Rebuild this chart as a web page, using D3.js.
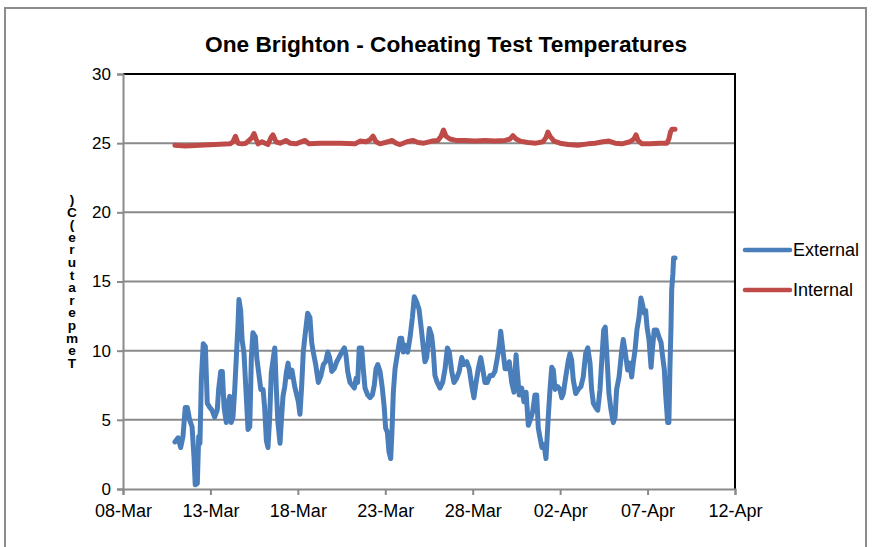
<!DOCTYPE html>
<html>
<head>
<meta charset="utf-8">
<script src="https://cdn.jsdelivr.net/npm/d3@7/dist/d3.min.js"></script>
<style>
  body { margin: 0; background: #fff; }
  svg { display: block; font-family: "Liberation Sans", Arial, sans-serif; }
</style>
</head>
<body>
<svg id="chart" width="876" height="547"></svg>
<script>
// ---------- DATA ----------
const chartTitle = "One Brighton - Coheating Test Temperatures";
const yAxisTitle = "Temperature (C)";
const seriesNames = ["External", "Internal"];
const baseDate = "2010-03-08";
const xTickLabels = ["08-Mar", "13-Mar", "18-Mar", "23-Mar", "28-Mar", "02-Apr", "07-Apr", "12-Apr"];
const yTickValues = [0, 5, 10, 15, 20, 25, 30];

// days since 08-Mar 00:00
const extDays = [2.97,3.15,3.30,3.43,3.56,3.68,3.81,3.95,4.06,4.13,4.25,4.33,4.40,4.48,4.59,4.71,4.82,4.96,5.09,5.24,5.39,5.47,5.59,5.68,5.78,5.91,6.00,6.10,6.19,6.29,6.39,6.48,6.58,6.63,6.73,6.81,6.92,7.05,7.15,7.25,7.34,7.43,7.57,7.65,7.76,7.88,8.01,8.10,8.20,8.29,8.39,8.48,8.60,8.68,8.77,8.86,8.98,9.05,9.15,9.25,9.34,9.44,9.53,9.66,9.82,10.03,10.12,10.22,10.31,10.41,10.56,10.69,10.79,10.88,11.02,11.17,11.32,11.46,11.59,11.71,11.82,11.94,12.08,12.22,12.35,12.51,12.66,12.75,12.85,12.98,13.11,13.23,13.33,13.42,13.51,13.65,13.74,13.84,13.99,14.13,14.26,14.37,14.47,14.57,14.70,14.83,14.94,15.02,15.12,15.21,15.31,15.38,15.46,15.56,15.71,15.84,15.94,16.03,16.13,16.28,16.41,16.55,16.66,16.80,16.93,17.04,17.16,17.27,17.37,17.52,17.65,17.75,17.84,17.97,18.13,18.28,18.42,18.55,18.66,18.80,18.93,19.08,19.23,19.37,19.50,19.66,19.80,19.94,20.07,20.19,20.32,20.46,20.57,20.70,20.83,20.99,21.14,21.27,21.41,21.52,21.60,21.71,21.85,21.98,22.09,22.23,22.36,22.48,22.55,22.66,22.80,22.93,23.05,23.18,23.32,23.43,23.56,23.66,23.75,23.85,23.96,24.08,24.19,24.32,24.42,24.52,24.61,24.71,24.86,24.99,25.09,25.18,25.32,25.47,25.56,25.66,25.75,25.89,26.04,26.19,26.32,26.46,26.58,26.71,26.80,26.90,27.03,27.15,27.28,27.38,27.49,27.58,27.68,27.79,27.91,28.04,28.14,28.23,28.37,28.52,28.61,28.71,28.86,28.99,29.09,29.18,29.28,29.39,29.51,29.62,29.70,29.81,29.89,29.97,30.08,30.20,30.27,30.38,30.52,30.65,30.77,30.84,30.96,31.04,31.15,31.22,31.28,31.34,31.38,31.45,31.49,31.57];
const extTemps = [3.4,3.7,3.0,3.8,5.9,5.9,5.0,4.5,2.3,0.3,0.4,3.8,3.3,7.9,10.5,10.3,6.2,5.9,5.7,5.2,5.7,7.2,8.5,8.5,5.9,4.8,6.2,6.7,4.8,5.2,7.2,9.5,12.0,13.7,12.9,10.8,9.8,6.7,4.3,4.5,9.5,11.3,11.0,9.5,8.4,7.2,7.2,5.9,3.5,3.0,5.2,8.4,9.5,10.2,7.2,4.8,3.3,4.8,6.7,7.4,8.4,9.1,8.1,8.6,7.4,6.3,5.4,7.5,9.9,11.1,12.7,12.4,10.6,9.9,9.0,7.7,8.2,9.0,9.2,9.9,9.5,8.5,8.7,9.2,9.5,9.9,10.2,9.7,8.5,7.7,7.5,7.3,8.0,7.7,10.2,10.2,8.7,7.3,6.8,6.6,6.8,7.5,8.7,9.0,8.5,7.3,5.9,4.4,4.1,2.7,2.2,4.1,7.0,8.7,9.9,10.9,10.9,9.9,10.4,9.9,10.9,12.4,13.9,13.5,13.0,11.8,10.4,9.2,9.5,11.6,11.1,9.9,8.2,7.7,7.3,7.7,8.7,10.2,9.9,8.5,7.7,8.0,8.5,9.5,9.0,9.2,8.7,7.5,6.6,7.7,8.7,9.5,8.7,7.7,7.7,8.2,8.2,8.5,9.5,10.4,11.4,10.2,8.7,8.7,9.2,7.7,7.0,9.7,8.5,6.8,7.3,6.3,7.0,4.6,5.1,5.6,6.8,6.8,4.4,3.7,3.0,3.2,2.2,5.2,7.2,8.8,8.6,7.2,7.4,7.2,6.6,6.9,8.1,9.3,9.8,9.3,7.9,6.9,7.2,7.4,8.1,9.8,10.2,9.1,7.2,6.2,5.9,5.7,7.2,9.3,11.5,11.7,9.5,6.9,5.7,4.8,5.2,7.2,8.1,10.0,10.8,10.0,8.6,9.1,8.1,9.1,10.0,11.5,12.4,13.8,13.4,12.7,12.9,11.7,10.8,8.8,10.0,11.5,11.5,11.0,10.6,9.8,8.6,6.7,4.8,4.8,8.8,11.7,14.4,15.6,16.7,16.7];

const intDays = [2.97,3.55,4.40,5.26,6.12,6.29,6.43,6.58,6.81,7.03,7.21,7.38,7.49,7.61,7.72,7.95,8.12,8.29,8.46,8.58,8.75,8.98,9.32,9.55,9.89,10.41,10.64,11.27,12.41,13.27,13.55,13.90,14.13,14.30,14.47,14.70,15.15,15.38,15.61,15.84,16.24,16.58,16.87,17.21,17.67,18.01,18.19,18.33,18.47,18.70,19.04,19.56,20.13,20.70,21.27,21.85,22.13,22.30,22.48,22.71,23.16,23.62,24.02,24.19,24.30,24.42,24.65,24.99,25.45,26.02,26.59,26.99,27.45,27.79,28.14,28.54,28.99,29.22,29.34,29.45,29.68,30.14,30.71,31.11,31.22,31.31,31.40,31.57];
const intTemps = [24.85,24.8,24.85,24.9,24.95,25.1,25.5,25.0,24.95,25.0,25.2,25.4,25.7,25.3,24.95,25.1,25.0,24.9,25.4,25.6,25.1,25.0,25.2,25.0,24.95,25.2,24.95,25.0,25.0,24.95,25.15,25.1,25.25,25.5,25.1,24.95,25.1,25.2,25.0,24.9,25.1,25.2,25.05,25.0,25.15,25.2,25.5,25.95,25.5,25.3,25.2,25.2,25.15,25.2,25.15,25.2,25.3,25.55,25.3,25.15,25.05,25.0,25.1,25.4,25.8,25.5,25.15,25.0,24.9,24.85,24.95,25.0,25.1,25.15,25.0,24.95,25.1,25.3,25.6,25.2,24.95,24.95,25.0,25.0,25.3,25.8,26.0,26.0];

const colors = ["#4A7EBB", "#BE4B48"];

// ---------- CHART ----------
const svg = d3.select("#chart");
const plot = { left: 123, right: 735, top: 74, bottom: 489 };

const base = d3.utcParse("%Y-%m-%d")(baseDate);
const toDate = d => new Date(base.getTime() + d * 86400000);
const parseTick = d3.utcParse("%d-%b-%Y");
const tickDates = xTickLabels.map(s => parseTick(s + "-2010"));

const x = d3.scaleUtc().domain([tickDates[0], tickDates[tickDates.length - 1]]).range([plot.left, plot.right]);
const y = d3.scaleLinear().domain([0, 30]).range([plot.bottom, plot.top]);

// outer border
svg.append("rect").attr("x", 5).attr("y", 8).attr("width", 861).attr("height", 560)
  .attr("fill", "#fff").attr("stroke", "#8c8c8c").attr("stroke-width", 2);

// title
svg.append("text").attr("x", 446).attr("y", 52).attr("text-anchor", "middle")
  .attr("font-size", 22).attr("font-weight", "bold").attr("fill", "#000")
  .attr("textLength", 482).attr("lengthAdjust", "spacingAndGlyphs")
  .text(chartTitle);

// gridlines
svg.append("g").selectAll("line").data(yTickValues.filter(v => v > 0 && v < 30)).join("line")
  .attr("x1", plot.left).attr("x2", plot.right)
  .attr("y1", d => y(d)).attr("y2", d => y(d))
  .attr("stroke", "#8a8a8a").attr("stroke-width", 2);

// plot border top & right (black)
svg.append("path")
  .attr("d", `M${plot.left},${y(30)}H${plot.right}V${plot.bottom}`)
  .attr("fill", "none").attr("stroke", "#000").attr("stroke-width", 2);

// y axis
const yAxis = d3.axisLeft(y).tickValues(yTickValues).tickSize(6).tickPadding(6).tickFormat(d3.format("d"));
const gy = svg.append("g").attr("transform", `translate(${plot.left},0)`).call(yAxis);
gy.select(".domain").attr("stroke", "#8a8a8a").attr("stroke-width", 2);
gy.selectAll(".tick line").attr("stroke", "#8a8a8a").attr("stroke-width", 2);
gy.selectAll(".tick text").attr("font-size", 17).attr("fill", "#000")
  .attr("font-family", "Liberation Sans, Arial, sans-serif");

// x axis
const xAxis = d3.axisBottom(x).tickValues(tickDates).tickSize(6).tickPadding(9)
  .tickFormat((d, i) => xTickLabels[i]);
const gx = svg.append("g").attr("transform", `translate(0,${plot.bottom})`).call(xAxis);
gx.select(".domain").attr("stroke", "#8a8a8a").attr("stroke-width", 2);
gx.selectAll(".tick line").attr("stroke", "#8a8a8a").attr("stroke-width", 2);
gx.selectAll(".tick text").attr("font-size", 18).attr("fill", "#000")
  .attr("font-family", "Liberation Sans, Arial, sans-serif");

// y axis title: characters stacked vertically, reversed order (as in the reference)
const chars = Array.from(yAxisTitle).filter(c => c !== " ").reverse();
svg.append("g").selectAll("text").data(chars).join("text")
  .attr("transform", (d, i) => `translate(72,${204 + i * 12.6}) scale(1.3,1.15)`)
  .attr("text-anchor", "middle").attr("font-size", 10.5).attr("font-weight", "bold")
  .attr("fill", "#000").text(d => d);

// lines
const line = d3.line().x(d => x(toDate(d[0]))).y(d => y(d[1])).curve(d3.curveLinear);
const extData = extDays.map((d, i) => [d, extTemps[i]]);
const intData = intDays.map((d, i) => [d, intTemps[i]]);

svg.append("path").datum(intData).attr("d", line)
  .attr("fill", "none").attr("stroke", colors[1]).attr("stroke-width", 5)
  .attr("stroke-linejoin", "round").attr("stroke-linecap", "round");
svg.append("path").datum(extData).attr("d", line)
  .attr("fill", "none").attr("stroke", colors[0]).attr("stroke-width", 5)
  .attr("stroke-linejoin", "round").attr("stroke-linecap", "round");

// legend
const lg = svg.append("g");
seriesNames.forEach((name, i) => {
  const ly = 250 + i * 40;
  lg.append("line").attr("x1", 745).attr("x2", 790).attr("y1", ly).attr("y2", ly)
    .attr("stroke", colors[i]).attr("stroke-width", 4.5).attr("stroke-linecap", "round");
  lg.append("text").attr("x", 793).attr("y", ly + 6).attr("font-size", 18).attr("fill", "#000").text(name);
});
</script>
</body>
</html>
